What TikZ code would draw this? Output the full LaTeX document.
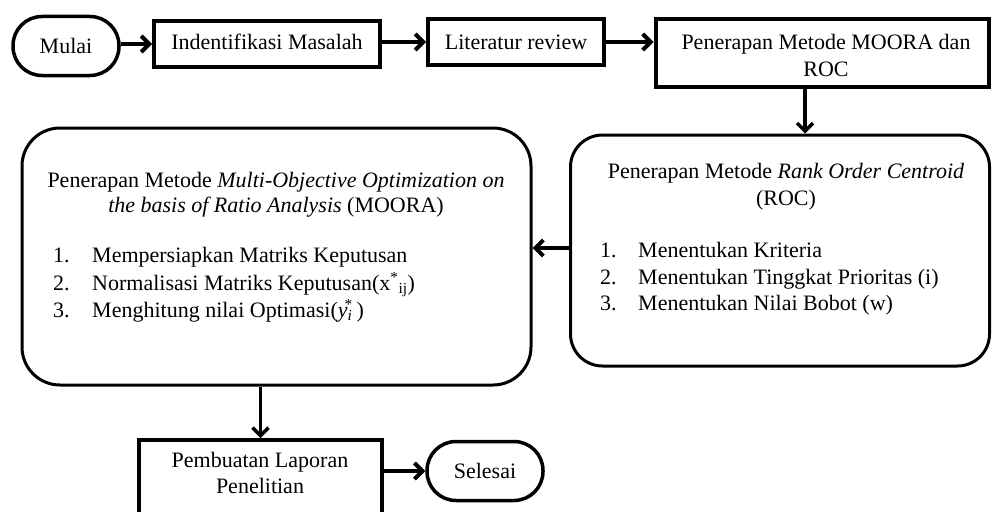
\documentclass[tikz,border=0pt]{standalone}
\usepackage{fontspec}
\setmainfont{Liberation Serif}
\usetikzlibrary{arrows.meta}
\begin{document}
\begin{tikzpicture}[x=1pt,y=-1pt,
  every node/.style={font=\fontsize{22}{26}\selectfont},
  sq/.style={draw,line width=4pt,inner sep=0,align=center},
  stad/.style={draw,line width=3.5pt,rounded corners=29pt,inner sep=0},
  rbox/.style={draw,line width=3pt,inner sep=0},
  txt/.style={inner sep=0,anchor=base west},
  ctxt/.style={inner sep=0,anchor=base},
  arr/.style={line width=4pt,-{Straight Barb[length=8pt,width=16pt]}},
  varr/.style={line width=3.5pt,-{Straight Barb[length=8pt,width=16pt]}},
]
\useasboundingbox (0,0) rectangle (992,511);
\clip (0,0) rectangle (992,511);
\fill[white] (0,0) rectangle (992,511);

% top row
\node[stad,minimum width=106pt,minimum height=59pt] (mulai) at (66,46) {};
\node[ctxt] (mulait) at (66,53) {Mulai};
\node[sq,minimum width=226pt,minimum height=46pt] (ident) at (267,44) {};
\node[ctxt] (identt) at (267,50) {Indentifikasi Masalah};
\node[sq,minimum width=176pt,minimum height=45pt] (lit) at (516,42) {};
\node[ctxt] (litt) at (516,49) {Literatur review};
\node[sq,minimum width=333pt,minimum height=68pt] (pen) at (822,53) {};
\node[ctxt] (pent1) at (826,49) {Penerapan Metode MOORA dan};
\node[ctxt] (pent2) at (826,76) {ROC};

% ROC box
\node[rbox,rounded corners=32pt,minimum width=419pt,minimum height=231pt] (roc) at (780,250.5) {};
\node[ctxt] (roct1) at (786,178) {Penerapan Metode \textit{Rank Order Centroid}};
\node[ctxt] (roct2) at (786,205) {(ROC)};
\node[txt] (rocn1) at (600,257) {1.};
\node[txt] (roci1) at (638,257) {Menentukan Kriteria};
\node[txt] (rocn2) at (600,284) {2.};
\node[txt] (roci2) at (638,284) {Menentukan Tinggkat Prioritas (i)};
\node[txt] (rocn3) at (600,310) {3.};
\node[txt] (roci3) at (638,310) {Menentukan Nilai Bobot (w)};

% MOORA box
\node[rbox,rounded corners=38pt,minimum width=509pt,minimum height=257pt] (moora) at (276.5,256.5) {};
\node[ctxt] (moorat1) at (276,187) {Penerapan Metode \textit{Multi-Objective Optimization on}};
\node[ctxt] (moorat2) at (276,212) {\textit{the basis of Ratio Analysis} (MOORA)};
\node[txt] (moon1) at (53,262) {1.};
\node[txt] (mooi1) at (92,262) {Mempersiapkan Matriks Keputusan};
\node[txt] (moon2) at (53,290) {2.};
\node[txt] (mooi2) at (92,290) {Normalisasi Matriks Keputusan(x\textsuperscript{*}\textsubscript{ij})};
\node[txt] (moon3) at (53,317) {3.};
\node[txt] (mooi3) at (92,317) {Menghitung nilai Optimasi(\textit{y}\textsubscript{\textit{i}}\kern-0.35em\textsuperscript{*}\,)};

% bottom
\node[sq,minimum width=243pt,minimum height=80pt] (lap) at (260.5,480) {};
\node[ctxt] (lapt1) at (260,467) {Pembuatan Laporan};
\node[ctxt] (lapt2) at (260,493) {Penelitian};
\node[stad,minimum width=116pt,minimum height=59pt] (sel) at (485,471) {};
\node[ctxt] (selt) at (485,478) {Selesai};

% connectors
\coordinate (dx) at (805,0);
\draw[arr] (mulai.east |- ident.west) -- (ident.west);
\draw[arr] (ident.east |- lit.west) -- (lit.west);
\draw[arr] (lit.east) -- (lit.east -| pen.west);
\draw[varr] (dx |- pen.south) -- (dx |- roc.north);
\draw[arr] (roc.west |- 0,248) -- (moora.east |- 0,248);
\draw[varr] (lap.north |- moora.south) -- (lap.north);
\draw[arr] (sel.west -| lap.east) -- (sel.west);
\end{tikzpicture}
\end{document}
